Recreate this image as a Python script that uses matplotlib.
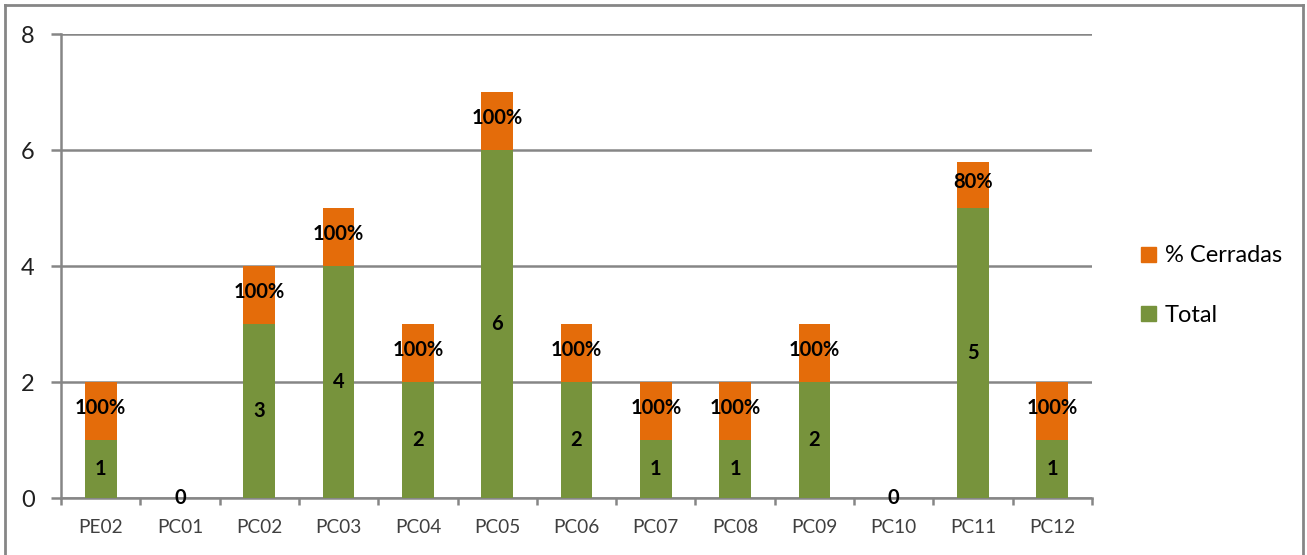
import matplotlib.pyplot as plt
import numpy as np
from matplotlib.patches import Patch

# Datos por proceso
procesos = ["PE02", "PC01", "PC02", "PC03", "PC04", "PC05", "PC06",
            "PC07", "PC08", "PC09", "PC10", "PC11", "PC12"]
total = [1, 0, 3, 4, 2, 6, 2, 1, 1, 2, 0, 5, 1]
cerradas = [1.0, 0, 1.0, 1.0, 1.0, 1.0, 1.0, 1.0, 1.0, 1.0, 0, 0.8, 1.0]

verde = "#77933C"
naranja = "#E46C0A"
gris = "#868686"

plt.rcParams['font.family'] = ['Lato', 'DejaVu Sans']

fig = plt.figure(figsize=(13.07, 5.55), dpi=100)
ax = fig.add_axes([0.0467, 0.1027, 0.7888, 0.836])

x = np.arange(len(procesos))
ancho = 0.4
b_total = ax.bar(x, total, ancho, color=verde, zorder=3)
b_cerr = ax.bar(x, cerradas, ancho, bottom=total, color=naranja, zorder=3)

# Etiquetas de valor dentro de cada segmento
for xi, t, c in zip(x, total, cerradas):
    ax.text(xi, t / 2 if t > 0 else 0, f"{t}", ha="center", va="center",
            fontsize=14.5, fontweight="bold", zorder=4)
    if c > 0:
        ax.text(xi, t + c / 2 + 0.05, f"{c:.0%}", ha="center", va="center",
                fontsize=14.5, fontweight="bold", zorder=4)

ax.set_xlim(-0.5, len(procesos) - 0.5)
ax.set_ylim(0, 8)
ax.set_yticks([0, 2, 4, 6, 8])
ax.yaxis.grid(True, color=gris, linewidth=1.8, zorder=0)

ax.set_xticks(x)
ax.set_xticklabels(procesos, fontsize=13.7, color="#404040")
ax.set_xticks(np.arange(-0.5, len(procesos)), minor=True)
ax.tick_params(axis="x", which="major", length=0, pad=15)
ax.tick_params(axis="x", which="minor", length=5, width=1.8, color=gris)
ax.tick_params(axis="y", length=7, width=1.8, color=gris, pad=12,
               labelsize=17, labelcolor="#202020")

for lado in ["top", "right"]:
    ax.spines[lado].set_visible(False)
for lado in ["left", "bottom"]:
    ax.spines[lado].set_color(gris)
    ax.spines[lado].set_linewidth(1.8)

# Leyenda a la derecha
handles = [Patch(color=naranja, label="% Cerradas"),
           Patch(color=verde, label="Total")]
fig.legend(handles=handles, loc="center left", bbox_to_anchor=(0.857, 0.485),
           frameon=False, fontsize=17, handlelength=0.6, handleheight=0.6,
           handletextpad=0.4, labelspacing=1.65)

# Marco exterior del grafico
fig.add_artist(plt.Line2D([0.004, 0.004], [0, 0.991], color=gris, lw=2,
                          transform=fig.transFigure))
fig.add_artist(plt.Line2D([0.004, 0.997], [0.991, 0.991], color=gris, lw=2,
                          transform=fig.transFigure))
fig.add_artist(plt.Line2D([0.997, 0.997], [0, 0.991], color=gris, lw=2,
                          transform=fig.transFigure))

fig.savefig("out.png", dpi=100)
